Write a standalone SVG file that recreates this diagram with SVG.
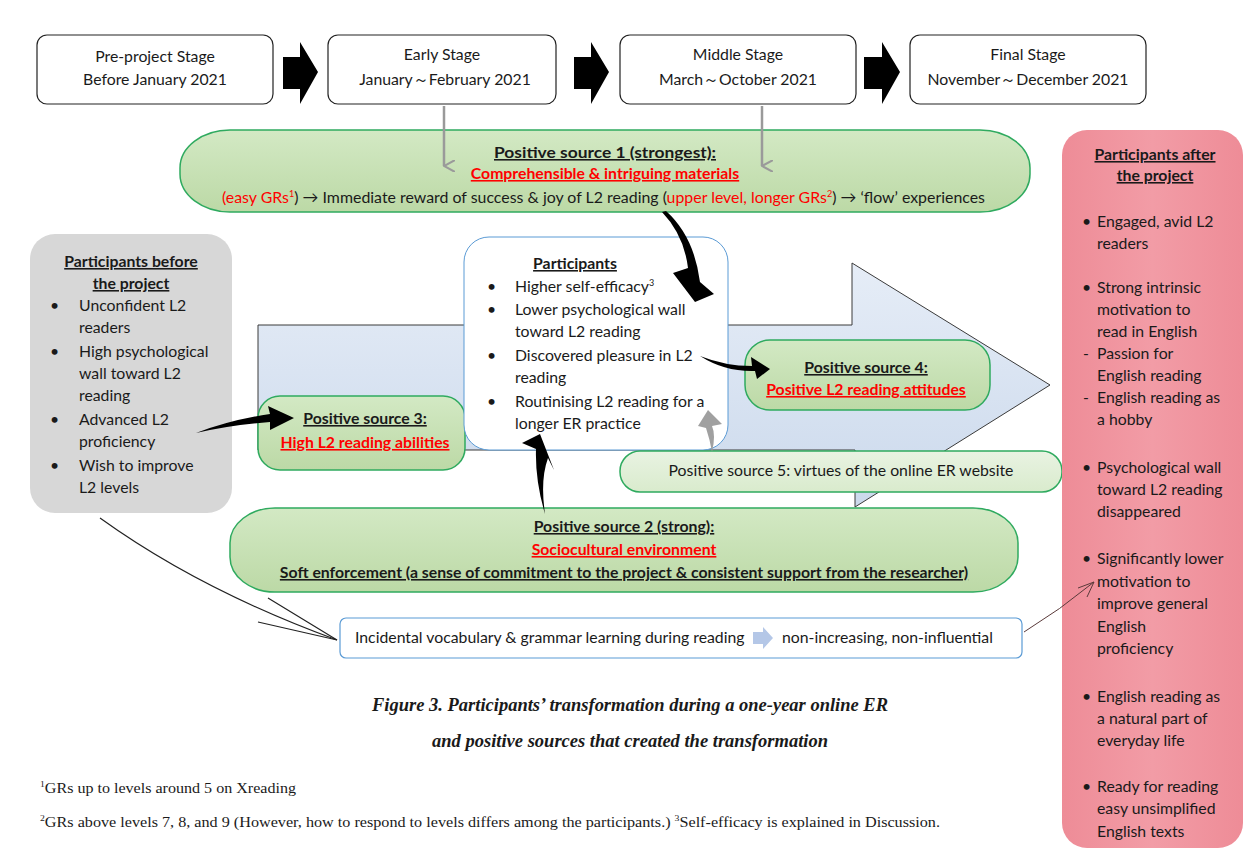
<svg xmlns="http://www.w3.org/2000/svg" width="1248" height="850" viewBox="0 0 1248 850">
<style>
text{font-family:Lato,"Liberation Sans",sans-serif;font-size:15.8px;fill:#1a1a1a}
.c{text-anchor:middle}
.b{font-weight:bold}
.u{text-decoration:underline}
.r{fill:#ff0000}
.stage{fill:#fff;stroke:#222;stroke-width:1.2}
.grn{fill:url(#gg);stroke:#2faa5f;stroke-width:1.5}
.cap{font-family:"Liberation Serif",serif;font-weight:bold;font-style:italic;font-size:18px}
.fn{font-family:"Liberation Serif",serif;font-size:15px}
.blk{fill:#000}
.thin{fill:none;stroke:#222;stroke-width:1.2}
</style>
<defs>
<linearGradient id="gg" x1="0" y1="0" x2="0" y2="1">
<stop offset="0" stop-color="#d3e9c4"/><stop offset="1" stop-color="#bcd9a6"/>
</linearGradient>
<linearGradient id="gl" x1="0" y1="0" x2="0" y2="1">
<stop offset="0" stop-color="#e9f3e2"/><stop offset="1" stop-color="#d9ebcd"/>
</linearGradient>
<linearGradient id="bl" x1="0" y1="0" x2="0" y2="1">
<stop offset="0" stop-color="#e6edf7"/><stop offset="1" stop-color="#cbd9ec"/>
</linearGradient>
<linearGradient id="pk" x1="0" y1="0" x2="1" y2="0">
<stop offset="0" stop-color="#ee8c97"/><stop offset="0.5" stop-color="#f29ca6"/><stop offset="1" stop-color="#ee8c97"/>
</linearGradient>
<marker id="ga" markerWidth="12" markerHeight="12" refX="6" refY="11" orient="auto" markerUnits="userSpaceOnUse" viewBox="0 0 12 12">
<path d="M0,0 L6,11 L12,0" fill="none" stroke="#9a9a9a" stroke-width="2"/>
</marker>
</defs>
<rect width="1248" height="850" fill="#fff"/>

<!-- stage boxes -->
<g id="stage1"><rect class="stage" x="37" y="35" width="236" height="69" rx="10"/>
<text class="c" x="155" y="62">Pre-project Stage</text><text class="c" x="155" y="85">Before January 2021</text></g>
<g id="stage2"><rect class="stage" x="328" y="35" width="228" height="69" rx="10"/>
<text class="c" x="442" y="60">Early Stage</text><text class="c" x="445" y="85">January～February 2021</text></g>
<g id="stage3"><rect class="stage" x="620" y="35" width="236" height="69" rx="10"/>
<text class="c" x="738" y="60">Middle Stage</text><text class="c" x="738" y="85">March～October 2021</text></g>
<g id="stage4"><rect class="stage" x="910" y="35" width="236" height="69" rx="10"/>
<text class="c" x="1028" y="60">Final Stage</text><text class="c" x="1028" y="85">November～December 2021</text></g>

<!-- big light blue arrow -->
<g id="bigarrow"><path d="M258,325 L852,325 L852,263 L1050,385 L855,507 L855,450 L258,450 Z" fill="url(#bl)" stroke="#3a3a3a" stroke-width="1"/></g>

<g id="source1"><rect class="grn" x="180" y="130" width="850" height="82" rx="50" ry="38"/>
<text class="c b u" x="605" y="158" textLength="222" lengthAdjust="spacingAndGlyphs">Positive source 1 (strongest):</text>
<text class="c b u r" x="605" y="179">Comprehensible &amp; intriguing materials</text>
<text x="222" y="203" textLength="763" lengthAdjust="spacingAndGlyphs"><tspan class="r">(easy GRs</tspan><tspan class="r" font-size="9" dy="-6">1</tspan><tspan dy="6">) → Immediate reward of success &amp; joy of L2 reading (</tspan><tspan class="r">upper level, longer GRs</tspan><tspan class="r" font-size="9" dy="-6">2</tspan><tspan dy="6">) → ‘flow’ experiences</tspan></text></g>

<g id="before"><rect x="30" y="234" width="202" height="279" rx="25" fill="#d7d7d7"/>
<text class="c b u" x="131" y="267">Participants before</text>
<text class="c b u" x="131" y="289">the project</text>
<g><text x="50" y="311">•</text><text x="79" y="311">Unconfident L2</text><text x="79" y="333">readers</text>
<text x="50" y="357">•</text><text x="79" y="357">High psychological</text><text x="79" y="379">wall toward L2</text><text x="79" y="401">reading</text>
<text x="50" y="425">•</text><text x="79" y="425">Advanced L2</text><text x="79" y="447">proficiency</text>
<text x="50" y="471">•</text><text x="79" y="471">Wish to improve</text><text x="79" y="493">L2 levels</text></g></g>

<g id="source3"><rect class="grn" x="258" y="396" width="207" height="74" rx="22"/>
<text class="c b u" x="365" y="424">Positive source 3:</text>
<text class="c b u r" x="365" y="448">High L2 reading abilities</text></g>

<g id="participants"><rect x="464" y="237" width="264" height="213" rx="25" fill="#fff" stroke="#5b9bd5" stroke-width="1"/>
<text class="c b u" x="575" y="269">Participants</text>
<text x="487" y="292">•</text><text x="515" y="292">Higher self-efficacy<tspan font-size="9" dy="-6">3</tspan></text>
<text x="487" y="315">•</text><text x="515" y="315">Lower psychological wall</text><text x="515" y="337">toward L2 reading</text>
<text x="487" y="361">•</text><text x="515" y="361">Discovered pleasure in L2</text><text x="515" y="383">reading</text>
<text x="487" y="407">•</text><text x="515" y="407">Routinising L2 reading for a</text><text x="515" y="429">longer ER practice</text></g>

<g id="source4"><rect class="grn" x="745" y="340" width="245" height="70" rx="25"/>
<text class="c b u" x="866" y="373">Positive source 4:</text>
<text class="c b u r" x="866" y="395">Positive L2 reading attitudes</text></g>

<g id="source5"><rect x="620" y="451" width="442" height="41" rx="20" fill="url(#gl)" stroke="#2faa5f" stroke-width="1.5"/>
<text class="c" x="841" y="476">Positive source 5: virtues of the online ER website</text></g>

<g id="source2"><rect class="grn" x="230" y="508" width="788" height="84" rx="45" ry="35"/>
<text class="c b u" x="624" y="532">Positive source 2 (strong):</text>
<text class="c b u r" x="624" y="555">Sociocultural environment</text>
<text class="c b u" x="624" y="578">Soft enforcement (a sense of commitment to the project &amp; consistent support from the researcher)</text></g>

<g id="incidental"><rect x="340" y="618" width="682" height="40" rx="6" fill="#fff" stroke="#5b9bd5" stroke-width="1.2"/>
<text x="355" y="643">Incidental vocabulary &amp; grammar learning during reading</text>
<path d="M753,632 L763,632 L763,627 L773,638 L763,649 L763,644 L753,644 Z" fill="#b4c7e7"/>
<text x="782" y="643">non-increasing, non-influential</text></g>

<g id="after"><rect x="1062" y="130" width="181" height="718" rx="25" fill="url(#pk)"/>
<text class="c b u" x="1155" y="160">Participants after</text>
<text class="c b u" x="1155" y="181">the project</text>
<g>
<text x="1082" y="227">•</text><text x="1097" y="227">Engaged, avid L2</text><text x="1097" y="249">readers</text>
<text x="1082" y="293">•</text><text x="1097" y="293">Strong intrinsic</text><text x="1097" y="315">motivation to</text><text x="1097" y="337">read in English</text>
<text x="1083" y="359">-</text><text x="1097" y="359">Passion for</text><text x="1097" y="381">English reading</text>
<text x="1083" y="403">-</text><text x="1097" y="403">English reading as</text><text x="1097" y="425">a hobby</text>
<text x="1082" y="473">•</text><text x="1097" y="473">Psychological wall</text><text x="1097" y="495">toward L2 reading</text><text x="1097" y="517">disappeared</text>
<text x="1082" y="564">•</text><text x="1097" y="564">Significantly lower</text><text x="1097" y="587">motivation to</text><text x="1097" y="609">improve general</text><text x="1097" y="632">English</text><text x="1097" y="654">proficiency</text>
<text x="1082" y="702">•</text><text x="1097" y="702">English reading as</text><text x="1097" y="724">a natural part of</text><text x="1097" y="746">everyday life</text>
<text x="1082" y="792">•</text><text x="1097" y="792">Ready for reading</text><text x="1097" y="814">easy unsimplified</text><text x="1097" y="837">English texts</text>
</g></g>

<g id="connectors">
<!-- stage arrows -->
<path class="blk" d="M283,57 L300,57 L300,42 L318,72 L300,104 L300,89 L283,89 Z"/>
<path class="blk" d="M574,57 L591,57 L591,42 L609,72 L591,104 L591,89 L574,89 Z"/>
<path class="blk" d="M864,57 L882,57 L882,42 L900,72 L882,104 L882,89 L864,89 Z"/>
<!-- grey stage to source1 -->
<line x1="444" y1="106" x2="444" y2="166" stroke="#9a9a9a" stroke-width="2.5" marker-end="url(#ga)"/>
<line x1="762" y1="106" x2="762" y2="166" stroke="#9a9a9a" stroke-width="2.5" marker-end="url(#ga)"/>
<!-- source1 -> participants -->
<path class="blk" d="M662,212 Q684,235 688,268 L673,273 L695,302 L714,294 L700,282 Q694,236 666,211 Z"/>
<!-- before -> source3 -->
<path class="blk" d="M196,433 Q230,420 270,414 L268,406 L294,418 L270,430 L270,422 Q230,425 196,433 Z"/>
<!-- participants -> source4 -->
<path class="blk" d="M700,356 Q725,366 752,366 L751,357 L770,369 L757,379 L755,371 Q725,372 700,356 Z"/>
<!-- source2 -> participants -->
<path class="blk" d="M545,514 Q540,480 548,458 L554,470 L540,434 L522,443 L536,449 Q535,480 545,514 Z"/>
<!-- source5 -> participants (grey) -->
<path d="M712,452 Q716,435 712,426 L722,424 L708,410 L698,426 L706,428 Q710,440 712,452 Z" fill="#a0a0a0"/>
<!-- before -> incidental thin -->
<path class="thin" d="M100,518 Q200,590 337,640"/>
<path class="thin" d="M268,598 L337,640 L258,622"/>
<!-- incidental -> after thin -->
<path d="M1024,632 Q1060,610 1094,582" fill="none" stroke="#5a3a3a" stroke-width="1"/>
<path d="M1078,588 L1094,582 L1087,597" fill="none" stroke="#5a3a3a" stroke-width="1"/>
</g>

<g id="caption">
<text class="cap c" x="630" y="711" textLength="516" lengthAdjust="spacingAndGlyphs">Figure 3. Participants’ transformation during a one-year online ER</text>
<text class="cap c" x="630" y="747" textLength="396" lengthAdjust="spacingAndGlyphs">and positive sources that created the transformation</text>
</g>
<g id="footnotes">
<text class="fn" x="40" y="793" textLength="256" lengthAdjust="spacingAndGlyphs"><tspan font-size="9" dy="-6">1</tspan><tspan dy="6">GRs up to levels around 5 on Xreading</tspan></text>
<text class="fn" x="40" y="827" textLength="900" lengthAdjust="spacingAndGlyphs"><tspan font-size="9" dy="-6">2</tspan><tspan dy="6">GRs above levels 7, 8, and 9 (However, how to respond to levels differs among the participants.) </tspan><tspan font-size="9" dy="-6">3</tspan><tspan dy="6">Self-efficacy is explained in Discussion.</tspan></text>
</g>
</svg>
